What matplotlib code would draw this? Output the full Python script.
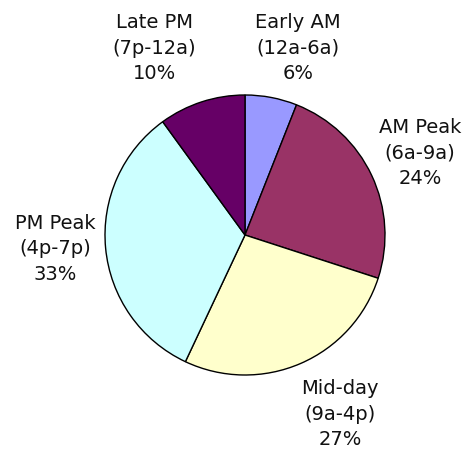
import matplotlib
matplotlib.use("Agg")
import matplotlib.pyplot as plt

periods = ["Early AM", "AM Peak", "Mid-day", "PM Peak", "Late PM"]
hours = ["(12a-6a)", "(6a-9a)", "(9a-4p)", "(4p-7p)", "(7p-12a)"]
shares = [6, 24, 27, 33, 10]
colors = ["#9999FF", "#993366", "#FFFFCC", "#CCFFFF", "#660066"]

labels = [f"{p}\n{h}\n{s}%" for p, h, s in zip(periods, hours, shares)]

# label anchor points in figure pixels (x from left, y from top)
label_pos = [(298, 48), (420, 153), (340, 414), (55, 249), (154, 48)]

W, H = 465, 457
fig = plt.figure(figsize=(W / 100, H / 100), dpi=100)
ax = fig.add_axes([0, 0, 1, 1])

wedges, texts = ax.pie(
    shares,
    labels=labels,
    colors=colors,
    startangle=90,
    counterclock=False,
    center=(245, H - 235),
    radius=140,
    labeldistance=1.41,
    wedgeprops=dict(edgecolor="black", linewidth=1.0),
    textprops=dict(fontsize=14, family="DejaVu Sans", color="#111111"),
    frame=True,
)
ax.set_xlim(0, W)
ax.set_ylim(0, H)
ax.set_aspect("equal")
ax.axis("off")
for t, (x, y) in zip(texts, label_pos):
    t.set_position((x, H - y))
    t.set_horizontalalignment("center")
    t.set_verticalalignment("center")
    t.set_multialignment("center")
    t.set_linespacing(1.45)

fig.savefig("out.png", dpi=100)
